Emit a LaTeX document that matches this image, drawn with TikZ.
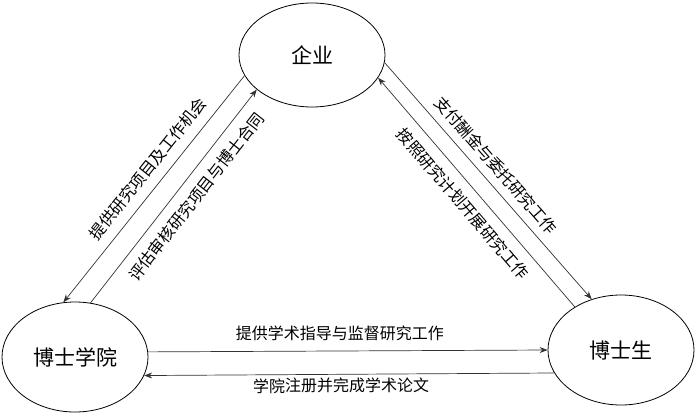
\documentclass[tikz,border=0pt]{standalone}
\usepackage{fontspec}
\setmainfont{Noto Sans CJK SC}
\usetikzlibrary{arrows.meta,shapes.geometric}

\begin{document}
\begin{tikzpicture}[x=1pt,y=1pt,
  party/.style={draw,ellipse,line width=0.8pt,minimum width=146pt,minimum height=104pt,
    inner sep=0pt,font=\fontsize{21}{25}\selectfont},
  flow/.style={-{Stealth[length=8pt,width=6pt]},line width=0.7pt,draw=black!80},
  lab/.style={font=\fontsize{16}{19}\selectfont,sloped}]
\useasboundingbox (0,0) rectangle (700,416);
% the three parties
\node[party] (qiye) at (312,361) {企业};
\node[party,minimum height=110pt] (xueyuan) at (75,59) {博士学院};
\node[party,minimum height=110pt] (boshi) at (621,66) {博士生};
% left pair
\draw[flow] (qiye.197) -- node[lab,pos=0.46,above=6.5pt] {提供研究项目及工作机会} (xueyuan.102);
\draw[flow] (xueyuan.74) -- node[lab,pos=0.55,below=7pt] {评估审核研究项目与博士合同} (qiye.212);
% right pair
\draw[flow] (qiye.354) -- node[lab,pos=0.48,above=5pt] {支付酬金与委托研究工作} (boshi.120);
\draw[flow] (boshi.137) -- node[lab,pos=0.5,below=6.5pt] {按照研究计划开展研究工作} (qiye.341);
% bottom pair
\draw[flow] (xueyuan.4) -- node[lab,pos=0.48,above=6.5pt] {提供学术指导与监督研究工作} (boshi.180);
\draw[flow] (boshi.199) -- node[lab,pos=0.52,below=0pt] {学院注册并完成学术论文} (xueyuan.345);
\end{tikzpicture}
\end{document}
